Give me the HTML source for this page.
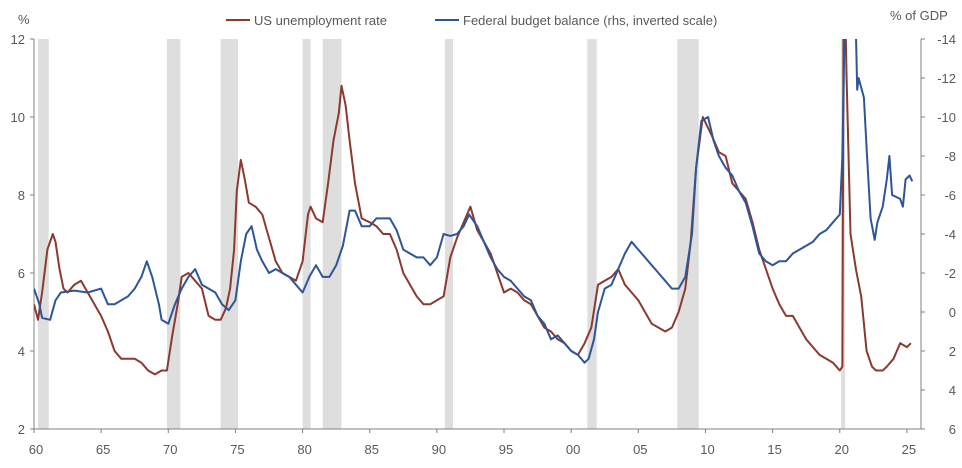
<!DOCTYPE html>
<html><head><meta charset="utf-8"><style>
body{margin:0;background:#fff;}
svg{display:block;font-family:"Liberation Sans",sans-serif;}
</style></head><body>
<svg id="chart" width="962" height="468" viewBox="0 0 962 468">
<defs><clipPath id="clip"><rect x="34" y="39" width="887" height="390"/></clipPath></defs>
<g id="rec"></g>
<g id="axes"></g>
<g id="lines" clip-path="url(#clip)"></g>
<g>
 <line x1="226" y1="20" x2="250" y2="20" stroke="#8B3A2F" stroke-width="2"/>
 <text x="254" y="25" font-size="13" fill="#595959">US unemployment rate</text>
 <line x1="435" y1="20" x2="459" y2="20" stroke="#2E5597" stroke-width="2"/>
 <text x="463" y="25" font-size="13" fill="#595959">Federal budget balance (rhs, inverted scale)</text>
</g>
<text x="18" y="24" font-size="13" fill="#595959">%</text>
<text x="890" y="20" font-size="13" fill="#595959">% of GDP</text>
</svg>
<script>
const unDates=[1960.0,1960.3,1960.6,1961.0,1961.4,1961.6,1961.9,1962.2,1962.5,1963.0,1963.5,1964.0,1964.5,1965.0,1965.5,1966.0,1966.5,1967.0,1967.5,1968.0,1968.5,1969.0,1969.5,1969.9,1970.3,1970.7,1971.0,1971.5,1972.0,1972.5,1973.0,1973.5,1973.9,1974.3,1974.6,1974.9,1975.1,1975.4,1975.7,1976.0,1976.5,1977.0,1977.5,1978.0,1978.5,1979.0,1979.5,1980.0,1980.4,1980.6,1981.0,1981.5,1981.9,1982.3,1982.7,1982.9,1983.2,1983.5,1983.9,1984.4,1985.0,1985.5,1986.0,1986.5,1987.0,1987.5,1988.0,1988.5,1989.0,1989.5,1990.0,1990.5,1991.0,1991.5,1992.0,1992.5,1993.0,1993.5,1994.0,1994.5,1995.0,1995.5,1996.0,1996.5,1997.0,1997.5,1998.0,1998.5,1999.0,1999.5,2000.0,2000.5,2001.0,2001.5,2002.0,2002.5,2003.0,2003.5,2004.0,2004.5,2005.0,2005.5,2006.0,2006.5,2007.0,2007.5,2008.0,2008.5,2008.9,2009.3,2009.8,2010.5,2011.0,2011.5,2012.0,2012.5,2013.0,2013.5,2014.0,2014.5,2015.0,2015.5,2016.0,2016.5,2017.0,2017.5,2018.0,2018.5,2019.0,2019.5,2020.0,2020.2,2020.3,2020.5,2020.8,2021.2,2021.6,2022.0,2022.4,2022.7,2023.2,2023.5,2024.0,2024.5,2025.0,2025.3];
const unValues=[5.2,4.8,5.5,6.6,7.0,6.8,6.1,5.6,5.5,5.7,5.8,5.5,5.2,4.9,4.5,4.0,3.8,3.8,3.8,3.7,3.5,3.4,3.5,3.5,4.4,5.2,5.9,6.0,5.8,5.6,4.9,4.8,4.8,5.1,5.6,6.6,8.1,8.9,8.4,7.8,7.7,7.5,6.9,6.3,6.0,5.9,5.8,6.3,7.5,7.7,7.4,7.3,8.3,9.4,10.1,10.8,10.3,9.4,8.3,7.4,7.3,7.2,7.0,7.0,6.6,6.0,5.7,5.4,5.2,5.2,5.3,5.4,6.4,6.9,7.3,7.7,7.1,6.8,6.5,6.0,5.5,5.6,5.5,5.3,5.2,4.9,4.6,4.5,4.3,4.2,4.0,3.9,4.2,4.6,5.7,5.8,5.9,6.1,5.7,5.5,5.3,5.0,4.7,4.6,4.5,4.6,5.0,5.6,6.8,8.7,10.0,9.5,9.1,9.0,8.3,8.1,7.9,7.3,6.6,6.1,5.6,5.2,4.9,4.9,4.6,4.3,4.1,3.9,3.8,3.7,3.5,3.6,14.7,11.1,7.0,6.1,5.4,4.0,3.6,3.5,3.5,3.6,3.8,4.2,4.1,4.2];
const bbDates=[1960.0,1960.4,1960.6,1961.2,1961.6,1962.0,1963.0,1964.0,1965.0,1965.5,1966.0,1967.0,1967.5,1968.0,1968.4,1968.8,1969.3,1969.5,1970.0,1970.5,1971.0,1971.5,1972.0,1972.5,1973.0,1973.5,1974.0,1974.5,1975.0,1975.4,1975.8,1976.2,1976.6,1977.0,1977.5,1978.0,1978.5,1979.0,1979.5,1980.0,1980.5,1981.0,1981.5,1982.0,1982.5,1983.0,1983.5,1983.9,1984.4,1985.0,1985.5,1986.0,1986.5,1987.0,1987.5,1988.0,1988.5,1989.0,1989.5,1990.0,1990.5,1991.0,1991.5,1992.0,1992.4,1993.0,1993.5,1994.0,1994.5,1995.0,1995.5,1996.0,1996.5,1997.0,1997.5,1998.0,1998.5,1999.0,1999.5,2000.0,2000.5,2001.0,2001.3,2001.7,2002.0,2002.5,2003.0,2003.5,2004.0,2004.5,2005.0,2005.5,2006.0,2006.5,2007.0,2007.5,2008.0,2008.5,2009.0,2009.3,2009.7,2010.2,2010.6,2011.0,2011.5,2012.0,2012.5,2013.0,2013.5,2014.0,2014.5,2015.0,2015.5,2016.0,2016.5,2017.0,2017.5,2018.0,2018.5,2019.0,2019.5,2020.0,2020.2,2020.4,2020.6,2021.0,2021.2,2021.3,2021.4,2021.8,2022.0,2022.3,2022.6,2022.8,2023.2,2023.5,2023.7,2023.9,2024.5,2024.7,2024.9,2025.2,2025.4];
const bbValues=[-1.2,-0.4,0.3,0.4,-0.6,-1,-1.1,-1,-1.2,-0.4,-0.4,-0.8,-1.2,-1.8,-2.6,-1.8,-0.4,0.4,0.6,-0.4,-1.2,-1.8,-2.2,-1.4,-1.2,-1,-0.4,-0.1,-0.6,-2.6,-4,-4.4,-3.2,-2.6,-2,-2.2,-2,-1.8,-1.4,-1,-1.8,-2.4,-1.8,-1.8,-2.4,-3.4,-5.2,-5.2,-4.4,-4.4,-4.8,-4.8,-4.8,-4.2,-3.2,-3,-2.8,-2.8,-2.4,-2.8,-4,-3.9,-4,-4.4,-5,-4.4,-3.6,-2.8,-2.2,-1.8,-1.6,-1.2,-0.8,-0.6,0.2,0.6,1.4,1.2,1.6,2,2.2,2.6,2.4,1.4,0,-1.2,-1.4,-2.2,-3,-3.6,-3.2,-2.8,-2.4,-2,-1.6,-1.2,-1.2,-1.8,-4,-7.4,-9.8,-10,-8.8,-8,-7.4,-7,-6.2,-5.6,-4.4,-3,-2.6,-2.4,-2.6,-2.6,-3,-3.2,-3.4,-3.6,-4,-4.2,-4.6,-5,-8,-16,-18,-18,-14.4,-11.4,-12,-11,-8.4,-4.8,-3.7,-4.6,-5.4,-6.8,-8,-6,-5.8,-5.4,-6.8,-7,-6.7];
const recStart=[1960.3,1969.9,1973.9,1980.0,1981.5,1990.6,2001.2,2007.9,2020.1];
const recEnd=[1961.1,1970.9,1975.2,1980.6,1982.9,1991.2,2001.9,2009.5,2020.4];
const leftTicks=[12,10,8,6,4,2];
const rightTicks=[-14,-12,-10,-8,-6,-4,-2,0,2,4,6];
const xTicks=[1960,1965,1970,1975,1980,1985,1990,1995,2000,2005,2010,2015,2020,2025];

const NS="http://www.w3.org/2000/svg";
const X0=34,X1=921,Y0=39,Y1=429;
const xS=d=>X0+(d-1960)*(X1-X0)/66.05;
const yL=v=>Y0+(12-v)*(Y1-Y0)/10;
const yR=v=>Y0+(v+14)*(Y1-Y0)/20;
function mk(tag,attrs,parent){const e=document.createElementNS(NS,tag);for(const k in attrs)e.setAttribute(k,attrs[k]);parent.appendChild(e);return e;}
const rec=document.getElementById('rec'),axes=document.getElementById('axes'),lines=document.getElementById('lines');
recStart.forEach((s,i)=>{
 const r=mk('rect',{x:xS(s),y:Y0,width:xS(recEnd[i])-xS(s),height:Y1-Y0,fill:'#dedede'},rec);
 
 
});
const gray='#808080',tc='#595959';
let a=mk('line',{x1:X0,y1:Y0,x2:X0,y2:Y1,stroke:gray},axes);


a=mk('line',{x1:X1,y1:Y0,x2:X1,y2:Y1,stroke:gray},axes);


a=mk('line',{x1:X0,y1:Y1,x2:X1,y2:Y1,stroke:gray},axes);


leftTicks.forEach(v=>{
 mk('line',{x1:X0-4,y1:yL(v),x2:X0,y2:yL(v),stroke:gray},axes);
 const t=mk('text',{x:X0-9,y:yL(v)+5,'text-anchor':'end','font-size':13,fill:tc},axes);t.textContent=v;
 
 
});
rightTicks.forEach(v=>{
 mk('line',{x1:X1,y1:yR(v),x2:X1+4,y2:yR(v),stroke:gray},axes);
 const t=mk('text',{x:X1+35,y:yR(v)+5,'text-anchor':'end','font-size':13,fill:tc},axes);t.textContent=v;
 
 
});
xTicks.forEach(v=>{
 mk('line',{x1:xS(v),y1:Y1,x2:xS(v),y2:Y1+4,stroke:gray},axes);
 const t=mk('text',{x:xS(v)+2,y:Y1+25,'text-anchor':'middle','font-size':13,fill:tc},axes);t.textContent=String(v%100).padStart(2,'0');
 
 
});
let p=mk('path',{d:unDates.map((d,i)=>(i?'L':'M')+xS(d).toFixed(1)+','+yL(unValues[i]).toFixed(1)).join(''),fill:'none',stroke:'#8B3A2F','stroke-width':2,'stroke-linejoin':'round'},lines);


p=mk('path',{d:bbDates.map((d,i)=>(i?'L':'M')+xS(d).toFixed(1)+','+yR(bbValues[i]).toFixed(1)).join(''),fill:'none',stroke:'#2E5597','stroke-width':2,'stroke-linejoin':'round'},lines);


</script>
</body></html>
